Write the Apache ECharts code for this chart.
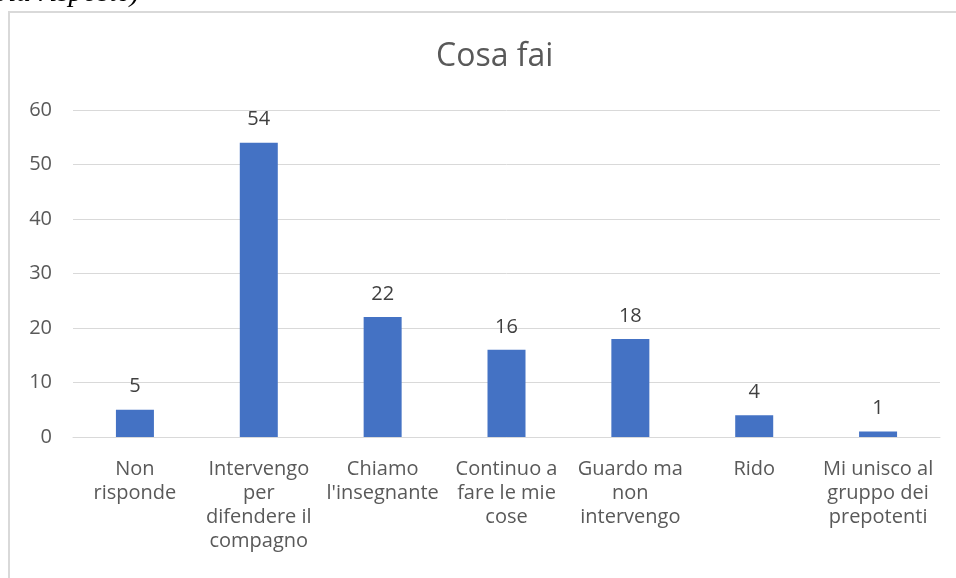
<!DOCTYPE html>
<html>
<head>
<meta charset="utf-8">
<script src="https://cdn.jsdelivr.net/npm/echarts@6/dist/echarts.min.js"></script>
<style>
  html, body { margin: 0; padding: 0; background: #fff; }
  #chart { width: 956px; height: 578px; }
</style>
</head>
<body>
<div id="chart"></div>
<script>
var categories = [
    'Non\nrisponde',
    'Intervengo\nper\ndifendere il\ncompagno',
    "Chiamo\nl'insegnante",
    'Continuo a\nfare le mie\ncose',
    'Guardo ma\nnon\nintervengo',
    'Rido',
    'Mi unisco al\ngruppo dei\nprepotenti'
];
var values = [5, 54, 22, 16, 18, 4, 1];
var yTicks = [0, 10, 20, 30, 40, 50, 60];

function showChart(){
    var dom = document.getElementById("chart");
    var myChart = echarts.init(dom);

    option = {
        animation: false,
        title: {
            text: 'Cosa fai',
            left: 431,
            top: 36,
            textStyle: {
                fontFamily: 'Open Sans',
                fontSize: 32,
                fontWeight: 'normal',
                color: '#595959'
            }
        },
        graphic: [{
            type: 'rect',
            shape: { x: 9, y: 12, width: 1000, height: 600 },
            style: { fill: 'none', stroke: '#d9d9d9', lineWidth: 2 }
        }, {
            type: 'text',
            left: -16,
            top: -21,
            style: {
                text: '(più risposte)',
                font: 'italic 29px "Liberation Serif"',
                fill: '#000'
            }
        }],
        grid: {
            left: 73,
            right: 16,
            top: 110,
            bottom: 141
        },
        xAxis: {
            type: 'category',
            data: categories,
            axisLine: { lineStyle: { color: '#d9d9d9', width: 1 } },
            axisTick: { show: false },
            axisLabel: {
                interval: 0,
                margin: 20,
                fontFamily: 'Open Sans',
                fontSize: 20,
                lineHeight: 24,
                color: '#595959',
                align: 'center',
                verticalAlign: 'top'
            }
        },
        yAxis: {
            type: 'value',
            min: yTicks[0],
            max: yTicks[yTicks.length - 1],
            interval: 10,
            axisLine: { show: false },
            axisTick: { show: false },
            splitLine: { lineStyle: { color: '#d9d9d9', width: 1 } },
            axisLabel: {
                margin: 21,
                fontFamily: 'Open Sans',
                fontSize: 20,
                color: '#595959'
            }
        },
        series: [{
            type: 'bar',
            data: values,
            barWidth: 38,
            itemStyle: { color: '#4472c4' },
            label: {
                show: true,
                position: 'top',
                distance: 13,
                fontFamily: 'Open Sans',
                fontSize: 20,
                color: '#404040'
            }
        }]
    };

    if (option && typeof option === "object") {
        myChart.setOption(option, true);
    }
}
showChart();
</script>
</body>
</html>
